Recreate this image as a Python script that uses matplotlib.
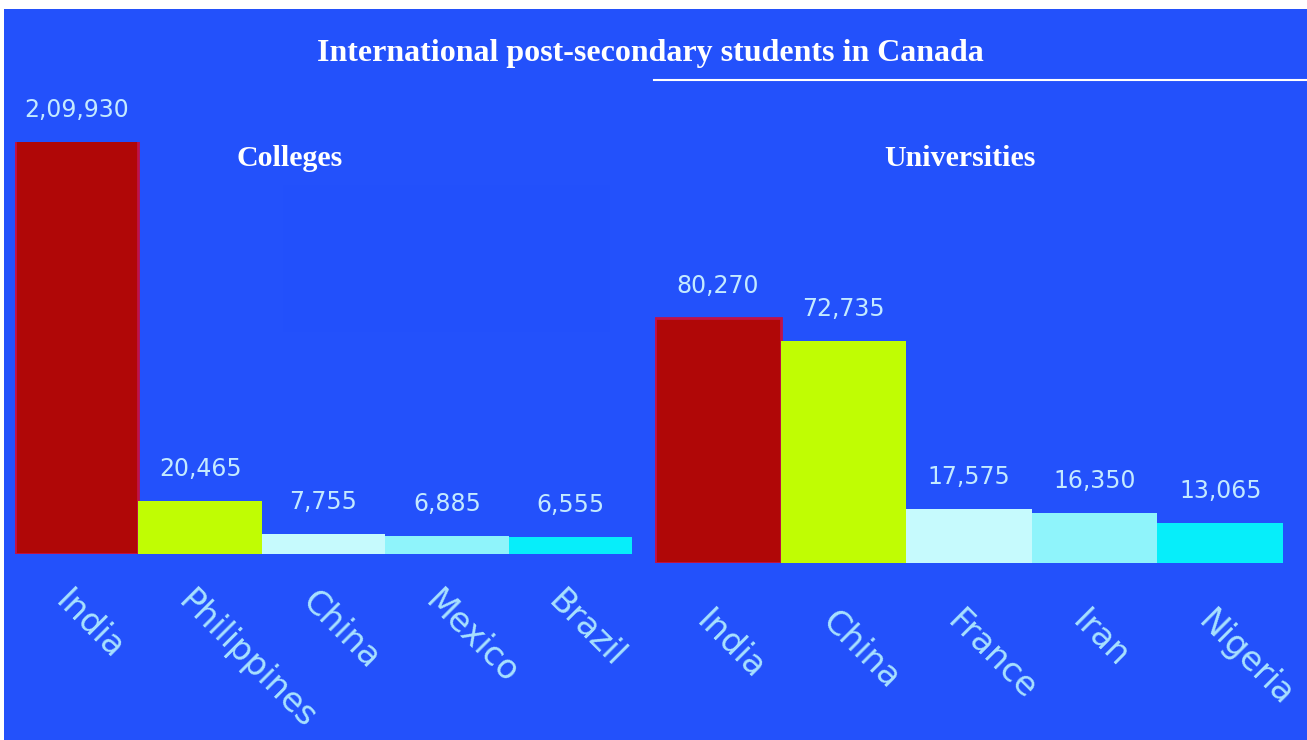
import matplotlib
matplotlib.use("Agg")
import matplotlib.pyplot as plt
from matplotlib.patches import Rectangle
from matplotlib.lines import Line2D
from matplotlib.transforms import ScaledTranslation

# ---- data ----
title = "International post-secondary students in Canada"
college_title = "Colleges"
college_countries = ["India", "Philippines", "China", "Mexico", "Brazil"]
college_values = [209930, 20465, 7755, 6885, 6555]

uni_title = "Universities"
uni_countries = ["India", "China", "France", "Iran", "Nigeria"]
uni_values = [80270, 72735, 17575, 16350, 13065]

bar_colors = ["#b00707", "#c0fd03", "#c6fafd", "#8ff4fb", "#06eefa"]

BG = "#2351fb"
VAL_COLOR = "#c4eaff"
TICK_COLOR = "#a9e2ff"


def indian_fmt(n):
    s = str(int(n))
    if len(s) <= 3:
        return s
    head, tail = s[:-3], s[-3:]
    groups = []
    while len(head) > 2:
        groups.insert(0, head[-2:])
        head = head[:-2]
    if head:
        groups.insert(0, head)
    return ",".join(groups + [tail])


W, H = 1307, 740
fig = plt.figure(figsize=(W / 100, H / 100), dpi=100, facecolor="white")

# blue background panel
fig.patches.append(Rectangle((4 / W, 0), 1, 1 - 9 / H, transform=fig.transFigure,
                             facecolor=BG, edgecolor="none", zorder=-10))
# faint darker patch
fig.patches.append(Rectangle((283 / W, 1 - 332 / H), 327 / W, 147 / H,
                             transform=fig.transFigure, facecolor="#2250fb",
                             edgecolor="none", zorder=-9))
# white rule under title
fig.lines.append(Line2D([654 / W, 1.0], [1 - 80 / H, 1 - 80 / H],
                        transform=fig.transFigure, color="white", lw=1.5))

fig.text(650 / W, 1 - 54 / H, title, ha="center", va="center", color="white",
         fontsize=23, fontweight="bold", family="Liberation Serif")
fig.text(290 / W, 1 - 158 / H, college_title, ha="center", va="center", color="white",
         fontsize=21.5, fontweight="bold", family="Liberation Serif")
fig.text(960 / W, 1 - 158 / H, uni_title, ha="center", va="center", color="white",
         fontsize=21.5, fontweight="bold", family="Liberation Serif")


def panel(rect, countries, values, ymax, pad):
    ax = fig.add_axes(rect)
    ax.set_facecolor("none")
    x = list(range(len(countries)))
    bars = ax.bar(x, values, width=1.0, color=bar_colors, edgecolor="none")
    bars[0].set_edgecolor("#c0124a")
    bars[0].set_linewidth(2)
    ax.set_xlim(-0.5, len(countries) - 0.5)
    ax.set_ylim(0, ymax)
    for xi, v in zip(x, values):
        ax.annotate(indian_fmt(v), xy=(xi, min(v, ymax)), xytext=(0, 23),
                    textcoords="offset points", ha="center", va="center",
                    color=VAL_COLOR, fontsize=17, family="DejaVu Sans")
    ax.tick_params(axis="x", length=0, pad=pad)
    ax.set_xticks(x)
    ax.set_xticklabels(countries, rotation=-45, ha="left", va="top",
                       rotation_mode="anchor", color=TICK_COLOR, fontsize=24,
                       family="DejaVu Sans")
    shift = ScaledTranslation(-5 / 100, 0, fig.dpi_scale_trans)
    for lab in ax.get_xticklabels():
        lab.set_transform(lab.get_transform() + shift)
    ax.set_yticks([])
    for s in ax.spines.values():
        s.set_visible(False)
    return ax


panel([15 / W, 1 - 554 / H, 617 / W, 412 / H], college_countries, college_values,
      158000, 22)
panel([655 / W, 1 - 563 / H, 628 / W, 283 / H], uni_countries, uni_values,
      92800, 30)

fig.savefig("out.png", dpi=100, facecolor="white")
